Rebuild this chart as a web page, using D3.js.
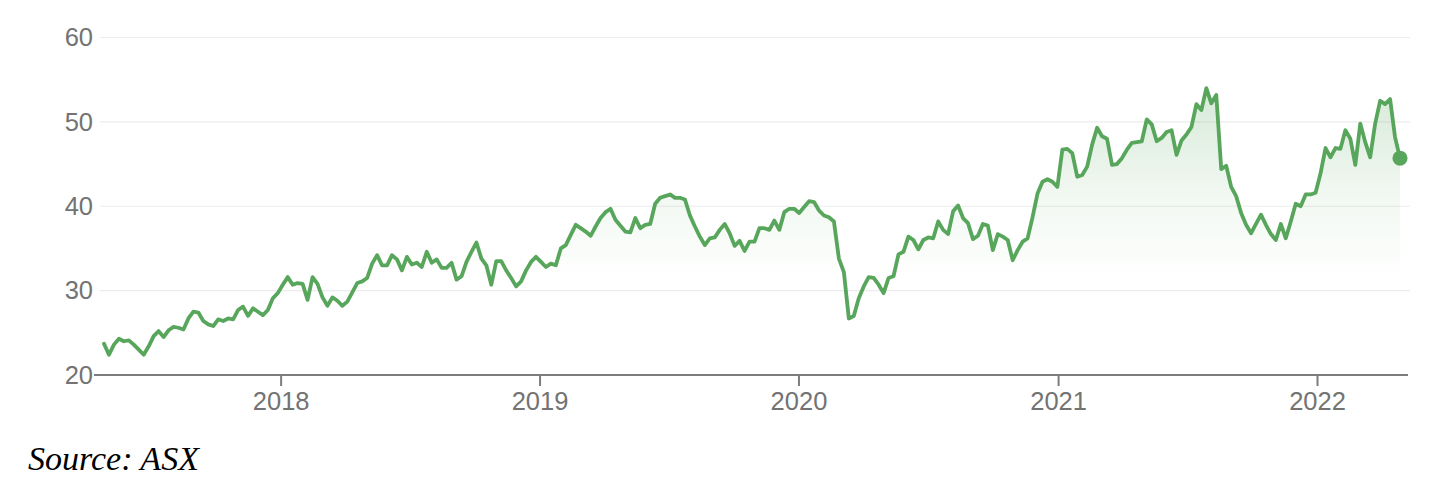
<!DOCTYPE html>
<html>
<head>
<meta charset="utf-8">
<script src="https://cdn.jsdelivr.net/npm/d3@7"></script>
<style>
  html, body { margin: 0; padding: 0; background: #fff; }
  svg { display: block; }
</style>
</head>
<body>
<svg id="chart" width="1442" height="492"></svg>
<script>
// ---- Data (weekly closing prices) ----
const startDate = "2017-04-27";
const weekStepDays = 7;
const prices2017 = [23.7,22.4,23.6,24.3,24.0,24.1,23.6,23.0,22.4,23.4,24.6,25.2,24.5,25.3,25.7,25.6,25.4,26.7,27.5,27.4,26.4,26.0,25.8,26.6,26.4,26.7,26.6,27.7,28.1,27.0,27.9,27.5,27.1,27.7,29.1,29.7];
const prices2018 = [30.7,31.6,30.7,30.9,30.8,28.9,31.6,30.8,29.2,28.2,29.2,28.8,28.2,28.7,29.8,30.9,31.1,31.5,33.2,34.2,33.0,33.0,34.2,33.7,32.4,34.0,33.1,33.3,32.8,34.6,33.3,33.7,32.7,32.7,33.3,31.3,31.7,33.4,34.6,35.7,33.8,33.0,30.7,33.5,33.5,32.4,31.5,30.5,31.1,32.4,33.4,34.0];
const prices2019 = [33.4,32.8,33.2,33.0,35.0,35.4,36.6,37.8,37.4,37.0,36.5,37.6,38.6,39.3,39.7,38.4,37.7,37.0,36.9,38.6,37.4,37.8,37.9,40.3,41.0,41.2,41.4,41.0,41.0,40.8,38.9,37.6,36.4,35.4,36.2,36.3,37.2,37.9,36.8,35.3,35.9,34.7,35.8,35.8,37.4,37.4,37.2,38.3,37.2,39.3,39.7,39.7];
const prices2020 = [39.2,39.9,40.6,40.5,39.5,38.9,38.7,38.2,33.8,32.2,26.7,27.0,29.1,30.5,31.6,31.5,30.7,29.7,31.5,31.7,34.3,34.6,36.4,36.0,34.9,36.0,36.3,36.2,38.2,37.2,36.7,39.4,40.1,38.6,38.0,36.1,36.5,37.9,37.7,34.8,36.7,36.4,36.0,33.6,34.8,35.8,36.2,38.7,41.5,42.9,43.2,42.9];
const prices2021 = [42.3,46.7,46.8,46.3,43.5,43.7,44.7,47.3,49.3,48.3,48.0,44.9,45.0,45.7,46.7,47.5,47.6,47.7,50.3,49.7,47.7,48.1,48.8,49.0,46.1,47.8,48.5,49.4,52.1,51.4,54.0,52.2,53.2,44.4,44.8,42.3,41.2,39.2,37.8,36.8,37.9,39.0,37.8,36.7,36.0,37.9,36.2,38.2,40.3,40.0,41.4,41.4];
const prices2022 = [41.6,43.9,46.9,45.8,46.9,46.8,49.0,48.0,44.9,49.8,47.6,45.8,49.8,52.5,52.1,52.7,48.2,45.7];
const prices = [].concat(prices2017, prices2018, prices2019, prices2020, prices2021, prices2022);
const yTicks = [20, 30, 40, 50, 60];
const xTickLabels = ["2018", "2019", "2020", "2021", "2022"];
const sourceText = "Source: ASX";

// ---- Build dated series ----
const parse = d3.utcParse("%Y-%m-%d");
const t0 = parse(startDate);
const series = prices.map((v, i) => ({ date: d3.utcDay.offset(t0, i * weekStepDays), value: v }));

// ---- Layout ----
const svg = d3.select("#chart");
const plot = { left: 104, right: 1400, top: 37.5, bottom: 375 };
const gridLeft = 100, gridRight = 1410;
const green = "#57a65b";
const axisColor = "#7d7d7d";
const labelColor = "#737373";

const x = d3.scaleUtc()
  .domain(d3.extent(series, d => d.date))
  .range([plot.left, plot.right]);
const y = d3.scaleLinear()
  .domain([20, 60])
  .range([plot.bottom, plot.top]);

// gradient
const defs = svg.append("defs");
const grad = defs.append("linearGradient")
  .attr("id", "areaGrad")
  .attr("gradientUnits", "userSpaceOnUse")
  .attr("x1", 0).attr("x2", 0)
  .attr("y1", y(54)).attr("y2", y(31));
grad.append("stop").attr("offset", "0%").attr("stop-color", green).attr("stop-opacity", 0.24);
grad.append("stop").attr("offset", "55%").attr("stop-color", green).attr("stop-opacity", 0.08);
grad.append("stop").attr("offset", "100%").attr("stop-color", green).attr("stop-opacity", 0);

// gridlines
svg.append("g")
  .selectAll("line")
  .data(yTicks.filter(t => t !== 20))
  .join("line")
  .attr("x1", gridLeft).attr("x2", gridRight)
  .attr("y1", d => y(d)).attr("y2", d => y(d))
  .attr("stroke", "#ececec")
  .attr("stroke-width", 1.2);

// area
svg.append("path")
  .datum(series)
  .attr("fill", "url(#areaGrad)")
  .attr("d", d3.area().x(d => x(d.date)).y0(plot.bottom).y1(d => y(d.value)));

// y-axis labels
const yAxis = svg.append("g")
  .attr("transform", `translate(${gridLeft},0)`)
  .call(d3.axisLeft(y).tickValues(yTicks).tickSize(0).tickPadding(7).tickFormat(d3.format("d")));
yAxis.select(".domain").remove();
yAxis.selectAll("text")
  .attr("fill", labelColor)
  .style("font-family", "'Liberation Sans', Arial, sans-serif")
  .style("font-size", "25.5px");

// x-axis
const xTickDates = xTickLabels.map(s => parse(s + "-01-01"));
const xAxis = svg.append("g")
  .attr("transform", `translate(0,${plot.bottom})`)
  .call(d3.axisBottom(x).tickValues(xTickDates).tickSize(11).tickPadding(6)
    .tickFormat((d, i) => xTickLabels[i]));
xAxis.select(".domain")
  .attr("d", `M${gridLeft - 6},0H${gridRight - 2}`)
  .attr("stroke", axisColor)
  .attr("stroke-width", 2.2);
xAxis.selectAll(".tick line").attr("stroke", axisColor).attr("stroke-width", 2);
xAxis.selectAll("text")
  .attr("fill", labelColor)
  .style("font-family", "'Liberation Sans', Arial, sans-serif")
  .style("font-size", "25.5px");

// line
svg.append("path")
  .datum(series)
  .attr("fill", "none")
  .attr("stroke", green)
  .attr("stroke-width", 3.8)
  .attr("stroke-linejoin", "round")
  .attr("stroke-linecap", "round")
  .attr("d", d3.line().x(d => x(d.date)).y(d => y(d.value)));

// end dot
const last = series[series.length - 1];
svg.append("circle")
  .attr("cx", x(last.date)).attr("cy", y(last.value))
  .attr("r", 7.5)
  .attr("fill", green);

// source
svg.append("text")
  .attr("x", 28).attr("y", 470)
  .attr("fill", "#000")
  .style("font-family", "'Liberation Serif', 'Times New Roman', serif")
  .style("font-style", "italic")
  .style("font-size", "34px")
  .text(sourceText);
</script>
</body>
</html>
